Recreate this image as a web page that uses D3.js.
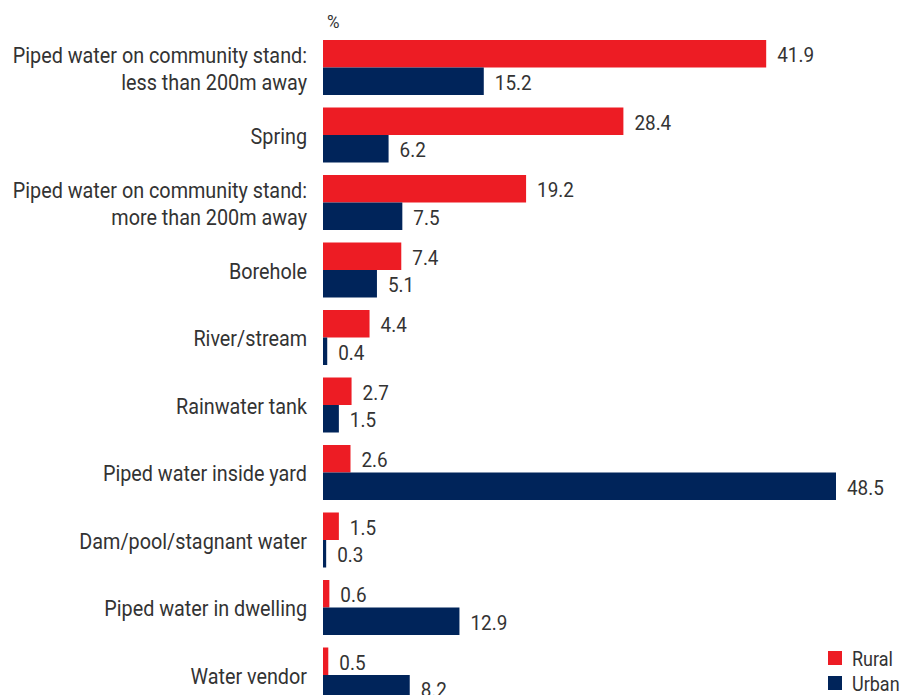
<!DOCTYPE html>
<html>
<head>
<meta charset="utf-8">
<script src="https://cdn.jsdelivr.net/npm/d3@7"></script>
<style>
  html, body { margin: 0; padding: 0; background: #fff; }
  svg { display: block; }
  text { font-family: "Roboto", "Liberation Sans", sans-serif; fill: #333; }
</style>
</head>
<body>
<svg id="chart" width="901" height="695"></svg>
<script>
// Main source of drinking water, by area type (%)
const categories = [
  ["Piped water on community stand:", "less than 200m away"],
  ["Spring"],
  ["Piped water on community stand:", "more than 200m away"],
  ["Borehole"],
  ["River/stream"],
  ["Rainwater tank"],
  ["Piped water inside yard"],
  ["Dam/pool/stagnant water"],
  ["Piped water in dwelling"],
  ["Water vendor"]
];
const rural = [41.9, 28.4, 19.2, 7.4, 4.4, 2.7, 2.6, 1.5, 0.6, 0.5];
const urban = [15.2, 6.2, 7.5, 5.1, 0.4, 1.5, 48.5, 0.3, 12.9, 8.2];
const seriesNames = ["Rural", "Urban"];
const seriesColors = ["#ed1c24", "#00245a"];

const svg = d3.select("#chart");
const plotLeft = 323;
const plotTop = 40;
const pitch = 67.5;
const gapFrac = 12.5 / pitch;
const squeeze = 0.9;   // narrow the sans face to a condensed look

const x = d3.scaleLinear().domain([0, 48.5]).range([plotLeft, 836]);
const y = d3.scaleBand()
  .domain(d3.range(categories.length))
  .range([plotTop, plotTop + pitch * (categories.length - gapFrac)])
  .paddingInner(gapFrac)
  .paddingOuter(0)
  .align(0);
const sub = d3.scaleBand().domain([0, 1]).range([0, y.bandwidth()]);

// condensed text helper
function ctext(sel, px, py, str, size, anchor) {
  return sel.append("text")
    .attr("transform", `translate(${px},${py}) scale(${squeeze},1)`)
    .attr("text-anchor", anchor || "start")
    .attr("font-size", size)
    .attr("dy", "0.4em")
    .text(str);
}

ctext(svg, 327, 20, "%", 19);

const groups = svg.selectAll("g.grp")
  .data(categories.map((c, i) => ({ label: c, values: [rural[i], urban[i]], i })))
  .join("g")
  .attr("class", "grp")
  .attr("transform", d => `translate(0,${y(d.i)})`);

groups.selectAll("rect")
  .data(d => d.values.map((v, k) => ({ v, k })))
  .join("rect")
  .attr("x", x(0))
  .attr("y", d => sub(d.k))
  .attr("width", d => x(d.v) - x(0))
  .attr("height", sub.bandwidth())
  .attr("fill", d => seriesColors[d.k]);

groups.each(function(d) {
  const g = d3.select(this);
  d.values.forEach((v, k) => {
    ctext(g, x(v) + 11, sub(k) + sub.bandwidth() / 2, v.toFixed(1), 21);
  });
  const lines = d.label;
  if (lines.length === 1) {
    ctext(g, 307, y.bandwidth() / 2, lines[0], 22, "end");
  } else {
    lines.forEach((ln, k) => ctext(g, 307, sub(k) + sub.bandwidth() / 2, ln, 22, "end"));
  }
});

// Legend
const legend = svg.append("g").attr("transform", "translate(828,651)");
seriesNames.forEach((name, k) => {
  legend.append("rect")
    .attr("x", 0).attr("y", k * 25)
    .attr("width", 14).attr("height", 14)
    .attr("fill", seriesColors[k]);
  ctext(legend, 24, k * 25 + 7, name, 20);
});
</script>
</body>
</html>
